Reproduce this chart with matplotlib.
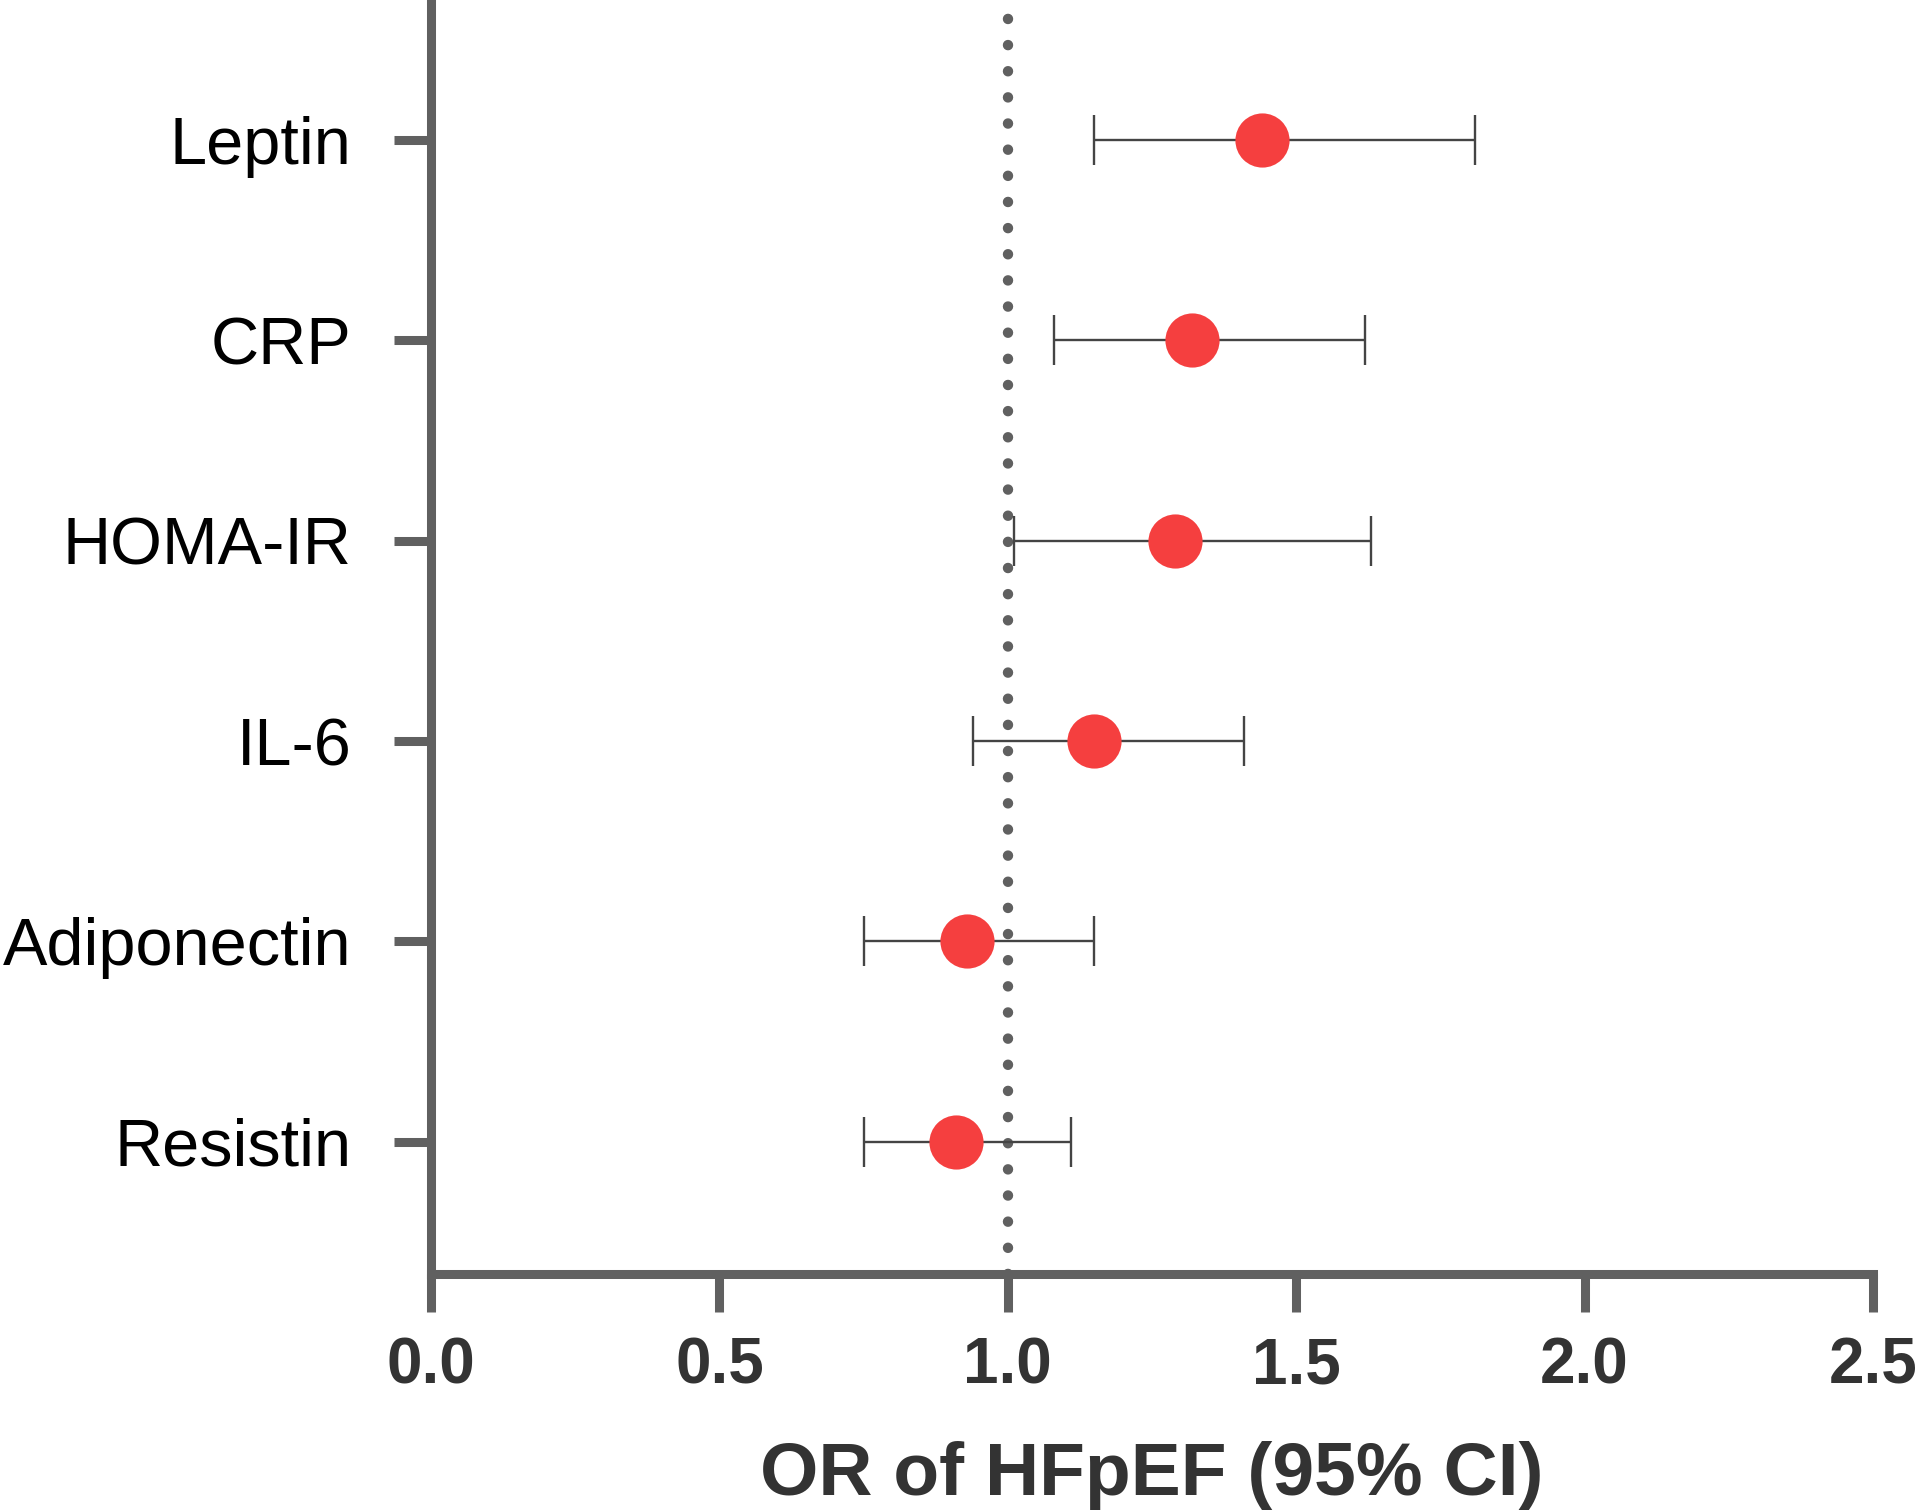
import matplotlib
matplotlib.use("Agg")
import matplotlib.pyplot as plt

categories = ["Leptin", "CRP", "HOMA-IR", "IL-6", "Adiponectin", "Resistin"]
odds_ratio = [1.44, 1.32, 1.29, 1.15, 0.93, 0.91]
ci_low = [1.15, 1.08, 1.01, 0.94, 0.75, 0.75]
ci_high = [1.81, 1.62, 1.63, 1.41, 1.15, 1.11]
xticks = [0.0, 0.5, 1.0, 1.5, 2.0, 2.5]
xtick_labels = ["0.0", "0.5", "1.0", "1.5", "2.0", "2.5"]
reference_or = 1.0

plt.rcParams['font.family'] = ['Liberation Sans', 'DejaVu Sans']

fig = plt.figure(figsize=(19.2, 15.11), dpi=100)
ax = fig.add_axes([0.2245, 0.1570, 0.9755 - 0.2245, 1.0 - 0.1570])

n = len(categories)
ypos = [n - 1 - i for i in range(n)]

ax.axvline(reference_or, color="#606060", lw=7.5, linestyle=(0, (0.01, 2.5)),
           dash_capstyle="round", zorder=1)

xerr = [[o - l for o, l in zip(odds_ratio, ci_low)],
        [h - o for o, h in zip(odds_ratio, ci_high)]]
ax.errorbar(odds_ratio, ypos, xerr=xerr, fmt="none", ecolor="#444444",
            elinewidth=1.7, capsize=18, capthick=1.7, zorder=2)
ax.plot(odds_ratio, ypos, "o", ms=39, color="#F53F3F", mec="none", zorder=3)

ax.set_xlim(0, 2.5)
ax.set_ylim(-0.66, n - 1 + 0.70)
ax.set_xticks(xticks)
ax.set_xticklabels(xtick_labels, fontsize=46, fontweight="bold", color="#333333")
ax.set_yticks(ypos)
ax.set_yticklabels(categories, fontsize=48, color="black")

for side in ["top", "right"]:
    ax.spines[side].set_visible(False)
for side in ["left", "bottom"]:
    ax.spines[side].set_color("#606060")
    ax.spines[side].set_linewidth(6.5)

ax.tick_params(axis="x", direction="out", length=27, width=6.5, color="#606060", pad=18)
ax.tick_params(axis="y", direction="out", length=27, width=6.5, color="#606060", pad=30)

ax.set_xlabel("OR of HFpEF (95% CI)", fontsize=54, fontweight="bold", color="#333333",
              labelpad=32)

fig.savefig("out.png", dpi=100)
